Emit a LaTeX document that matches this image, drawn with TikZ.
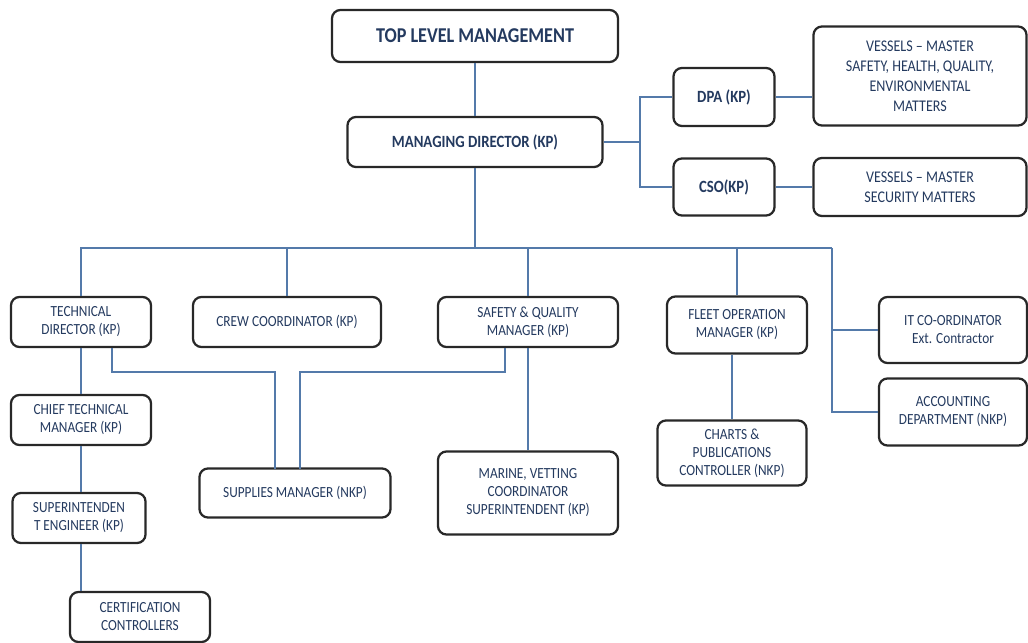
\documentclass[tikz,border=0pt]{standalone}
\usepackage{fontspec}
\setmainfont{Carlito}[FakeStretch=0.86]
\usetikzlibrary{positioning}

\definecolor{textblue}{RGB}{36,58,95}
\definecolor{lineblue}{RGB}{84,122,170}
\definecolor{boxgray}{RGB}{40,40,40}

\begin{document}
\begin{tikzpicture}[
	x=0.025cm, y=-0.025cm,
	orgbox/.style={draw=boxgray, line width=1.6pt, rounded corners=6pt, align=center, text=textblue, inner sep=2pt, font=\fontsize{11}{12.8}\selectfont},
	headbox/.style={orgbox, font=\bfseries\fontsize{12.2}{14}\selectfont},
	bx/.style 2 args={minimum width=#1*0.025cm, minimum height=#2*0.025cm},
	link/.style={draw=lineblue, line width=1pt},
	]
	\useasboundingbox (0,0) rectangle (1028,643);
	%Nodes
	\node[headbox, bx={286}{52}, font=\bfseries\fontsize{15}{17}\selectfont] (top) at (475,36) {TOP LEVEL MANAGEMENT};
	\node[headbox, bx={255}{50}] (md) at (475,142) {MANAGING DIRECTOR (KP)};
	\node[headbox, bx={101}{58}] (dpa) at (724,97) {DPA (KP)};
	\node[headbox, bx={101}{57}] (cso) at (724,187) {CSO(KP)};
	\node[orgbox, bx={213}{99}, font=\fontsize{11.6}{14.2}\selectfont] (vsl1) at (920,76) {VESSELS -- MASTER\\SAFETY, HEALTH, QUALITY,\\ENVIRONMENTAL\\MATTERS};
	\node[orgbox, bx={213}{58}, font=\fontsize{11.6}{14.2}\selectfont] (vsl2) at (920,187) {VESSELS -- MASTER\\SECURITY MATTERS};

	\node[orgbox, bx={140}{50}] (td) at (81,322) {TECHNICAL\\DIRECTOR (KP)};
	\node[orgbox, bx={188}{50}] (crew) at (287,322) {CREW COORDINATOR (KP)};
	\node[orgbox, bx={180}{50}] (sqm) at (528,322) {SAFETY \& QUALITY\\MANAGER (KP)};
	\node[orgbox, bx={140}{57}] (fom) at (737,325) {FLEET OPERATION\\MANAGER (KP)};
	\node[orgbox, bx={148}{66}] (it) at (953,330) {IT CO-ORDINATOR\\Ext. Contractor};
	\node[orgbox, bx={148}{67}] (acc) at (953,412) {ACCOUNTING\\DEPARTMENT (NKP)};

	\node[orgbox, bx={140}{50}] (ctm) at (81,420) {CHIEF TECHNICAL\\MANAGER (KP)};
	\node[orgbox, bx={133}{50}] (supt) at (79,518) {SUPERINTENDEN\\T ENGINEER (KP)};
	\node[orgbox, bx={140}{50}] (cert) at (140,617) {CERTIFICATION\\CONTROLLERS};
	\node[orgbox, bx={191}{49}] (sm) at (295,493) {SUPPLIES MANAGER (NKP)};
	\node[orgbox, bx={180}{83}] (mvc) at (528,493) {MARINE, VETTING\\COORDINATOR\\SUPERINTENDENT (KP)};
	\node[orgbox, bx={149}{65}] (cpc) at (732,453) {CHARTS \&\\PUBLICATIONS\\CONTROLLER (NKP)};

	%Joints
	\coordinate (mdj) at (640,142);
	\coordinate (bus) at (475,248);
	\coordinate (itj) at (832,248);
	\coordinate (tdj) at (112,372);
	\coordinate (sqj) at (505,372);
	\coordinate (smL) at (275,469);
	\coordinate (smR) at (300,469);

	%Lines
	\draw[link] (top) -- (md);
	\draw[link] (md.east) -- (mdj);
	\draw[link] (dpa.west) -| (mdj) |- (cso.west);
	\draw[link] (dpa.east) -- (dpa.east -| vsl1.west);
	\draw[link] (cso.east) -- (cso.east -| vsl2.west);
	\draw[link] (md) -- (bus);
	\draw[link] (td.north) |- (itj);
	\foreach \n in {crew,sqm,fom}
		\draw[link] (\n.north) -- (\n.north |- bus);
	\draw[link] (itj) |- (acc.west);
	\draw[link] (itj |- it.west) -- (it.west);
	\draw[link] (td.south) -- (ctm.north);
	\draw[link] (ctm.south) -- (ctm.south |- supt.north);
	\draw[link] (ctm.south |- supt.south) -- (ctm.south |- cert.north);
	\draw[link] (tdj |- td.south) -- (tdj) -| (smL);
	\draw[link] (sqj |- sqm.south) -- (sqj) -| (smR);
	\draw[link] (sqm) -- (mvc);
	\draw[link] (fom.south -| cpc.north) -- (cpc.north);
\end{tikzpicture}
\end{document}
